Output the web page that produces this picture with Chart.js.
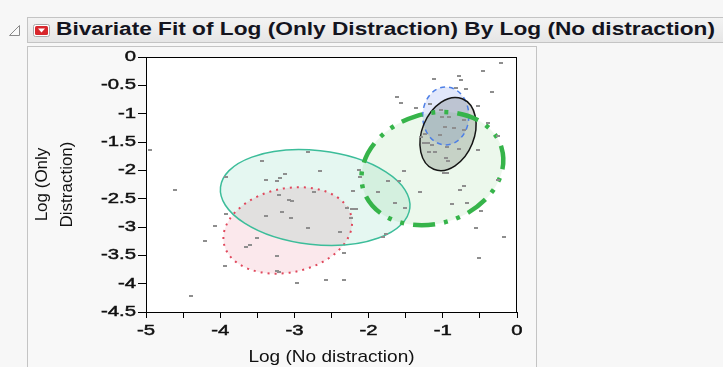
<!DOCTYPE html>
<html lang="en">
  <head>
    <meta charset="UTF-8" />
    <title>Bivariate Fit</title>
    <script src="https://cdn.jsdelivr.net/npm/chart.js"></script>
    <style>
      body {
        margin: 0;
        width: 723px;
        height: 367px;
        overflow: hidden;
        position: relative;
        background: #f7f7f7;
        font-family: "Liberation Sans", Arial, sans-serif;
      }
      .header {
        position: absolute;
        left: 27px;
        top: 17px;
        width: 696px;
        height: 26px;
        box-sizing: border-box;
        border: 1px solid #c4c4c4;
        border-right: none;
        background: linear-gradient(#f3f3f3, #e6e6e6);
      }
      .header .title {
        position: absolute;
        left: 28px;
        top: 1px;
        line-height: 20px;
        font-size: 18px;
        font-weight: bold;
        color: #14141e;
        white-space: nowrap;
        transform: scaleX(1.26);
        transform-origin: left top;
      }
      .panel {
        position: absolute;
        left: 27px;
        top: 46px;
        width: 510px;
        height: 340px;
        box-sizing: border-box;
        border: 1px solid #c4c4c4;
        background: #f8f8f8;
      }
      #icons,
      #plot {
        position: absolute;
        left: 0;
        top: 0;
      }
    </style>
  </head>
  <body>
    <div class="header"><span class="title">Bivariate Fit of Log (Only Distraction) By Log (No distraction)</span></div>
    <svg id="icons" width="60" height="44">
      <path d="M19.5 25.5 L19.5 35.5 L9.5 35.5 Z" fill="#fafafa" stroke="#8a8a8a" />
      <rect x="33.5" y="24.5" width="16" height="12" rx="2" fill="#fff" stroke="#a8a8a8" />
      <rect x="35" y="26" width="13" height="9" rx="1.5" fill="#d8262c" />
      <path d="M38 28.5 L45 28.5 L41.5 32.5 Z" fill="#fff" />
    </svg>
    <div class="panel"></div>
    <canvas id="plot" width="723" height="367"></canvas>
    <script>
      // Log (No distraction) / Log (Only Distraction) per subject
      const noDistraction = [
        -4.95, -2.81, -3.44, -2.66, -3.12, -3.19, -3.23, -3.38, -3.92, -4.61,
        -3.21, -3.07, -3.03, -2.73, -3.92, -3.38, -3.17, -3.04, -2.81, -4.07,
        -4.21, -3.5, -3.6, -3.65, -3.23, -3.94, -3.23, -3.21, -2.96, -2.58,
        -2.33, -4.4, -2.21, -1.87, -1.31, -0.72, -0.77, -1.64, -1.51, -0.87,
        -0.68, -0.49, -2.29, -2.22, -2.17, -2.24, -2.38, -0.55, -0.18, -1.77,
        -1.8, -2.33, -0.51, -2.13, -2.12, -1.52, -1.74, -1.59, -0.26, -0.98,
        -0.94, -0.22, -0.46, -0.78, -0.75, -1.12, -0.69, -0.34, -1.62, -1.56,
        -1.36, -0.82, -0.53, -1.17, -0.71, -0.91, -1.01, -0.97, -0.85, -0.72,
        -1.24, -1.04, -1.3, -1.25, -1.2, -1.14, -0.94, -0.78, -0.52, -1.19,
        -1.11, -0.96, -0.93, -0.26, -0.39, -1.03,
      ];
      const onlyDistraction = [
        -1.64, -1.68, -1.84, -2.02, -2.06, -2.14, -2.19, -2.17, -2.12, -2.34,
        -2.44, -2.52, -2.54, -2.39, -2.77, -2.81, -2.74, -2.84, -3.01, -2.99,
        -3.24, -3.19, -3.31, -3.36, -3.51, -3.68, -3.78, -3.8, -3.99, -3.93,
        -3.93, -4.21, -2.36, -2.39, -2.39, -2.27, -2.34, -2.57, -2.67, -2.59,
        -2.57, -2.71, -2.67, -2.69, -2.69, -2.84, -3.09, -3.02, -3.18, -3.12,
        -3.18, -3.46, -3.54, -1.99, -2.11, -2.01, -2.19, -2.19, -2.17, -2.04,
        -2.05, -0.11, -0.25, -0.34, -0.4, -0.39, -0.56, -0.62, -0.71, -0.81,
        -0.9, -0.55, -0.87, -0.83, -1.12, -1.05, -1.05, -1.24, -1.25, -1.28,
        -1.36, -1.37, -1.41, -1.52, -1.51, -1.55, -1.58, -1.62, -1.64, -1.67,
        -1.68, -1.78, -1.84, -1.4, -1.17, -0.93,
      ];

      // density ellipses: centre plus two conjugate half-axes, in data units
      const ellipseCenter = [[-2.72, -2.48], [-3.09, -3.06], [-1.14, -1.97], [-0.93, -1.36], [-0.96, -1.04]];
      const ellipseAxisU = [[1.276, -0.184], [0.859, 0.238], [0.931, 0.372], [0.192, 0.622], [0.311, 0]];
      const ellipseAxisV = [[-0.07, -0.824], [0.118, -0.725], [0.217, -0.928], [0.326, -0.172], [0, -0.512]];

      const xTickValues = [-5, -4.5, -4, -3.5, -3, -2.5, -2, -1.5, -1, -0.5, 0];
      const xTickLabels = ["-5", "", "-4", "", "-3", "", "-2", "", "-1", "", "0"];
      const yTickValues = [0, -0.5, -1, -1.5, -2, -2.5, -3, -3.5, -4, -4.5];
      const yTickLabels = ["0", "-0.5", "-1", "-1.5", "-2", "-2.5", "-3", "-3.5", "-4", "-4.5"];

      const ellipseStyle = [
        { stroke: "#3cbd9a", width: 1.5, dash: [], fill: "rgb(229,247,241)" },
        { stroke: "#e0485c", width: 2, dash: [2, 5], fill: "rgb(251,232,236)" },
        { stroke: "#36b44a", width: 4.5, dash: [22, 9, 4, 9, 4, 9], fill: "rgb(236,248,236)" },
        { stroke: "#151515", width: 1.5, dash: [], fill: "rgb(214,216,214)" },
        { stroke: "#4d7fe6", width: 1.5, dash: [5, 4], fill: "rgb(226,232,251)" },
      ];
      const strokeOrder = [1, 0, 4, 3, 2];

      const TICK_FONT = '14px "Liberation Sans", Arial, sans-serif';
      const TITLE_FONT = '17px "Liberation Sans", Arial, sans-serif';

      // small grey dash used as the marker
      const marker = document.createElement("canvas");
      marker.width = 4;
      marker.height = 2;
      const mctx = marker.getContext("2d");
      mctx.fillStyle = "#8e8e8e";
      mctx.fillRect(0, 0, 4, 2);

      function stretchedText(ctx, text, x, y, sx, align, baseline, font, heavy) {
        ctx.save();
        ctx.translate(x, y);
        ctx.scale(sx, 1);
        ctx.font = font;
        ctx.textAlign = align;
        ctx.textBaseline = baseline;
        ctx.fillText(text, 0, 0);
        if (heavy) {
          ctx.lineWidth = 0.45;
          ctx.strokeStyle = ctx.fillStyle;
          ctx.strokeText(text, 0, 0);
        }
        ctx.restore();
      }

      const densityEllipses = {
        id: "densityEllipses",
        beforeDraw(chart) {
          const { ctx, chartArea } = chart;
          ctx.save();
          ctx.fillStyle = "#fff";
          ctx.fillRect(chartArea.left, chartArea.top, chartArea.width, chartArea.height);
          ctx.restore();
        },
        beforeDatasetsDraw(chart) {
          const { ctx, chartArea } = chart;
          const xs = chart.scales.x;
          const ys = chart.scales.y;
          const paths = ellipseCenter.map((c, i) => {
            const cx = xs.getPixelForValue(c[0]);
            const cy = ys.getPixelForValue(c[1]);
            const u = ellipseAxisU[i];
            const v = ellipseAxisV[i];
            const m = new DOMMatrix([
              xs.getPixelForValue(c[0] + u[0]) - cx,
              ys.getPixelForValue(c[1] + u[1]) - cy,
              xs.getPixelForValue(c[0] + v[0]) - cx,
              ys.getPixelForValue(c[1] + v[1]) - cy,
              cx,
              cy,
            ]);
            const circle = new Path2D();
            circle.arc(0, 0, 1, 0, Math.PI * 2);
            const p = new Path2D();
            p.addPath(circle, m);
            return p;
          });

          ctx.save();
          ctx.beginPath();
          ctx.rect(chartArea.left, chartArea.top, chartArea.width, chartArea.height);
          ctx.clip();
          // fills multiply so overlaps darken like the original shading
          ctx.globalCompositeOperation = "multiply";
          paths.forEach((p, i) => {
            ctx.fillStyle = ellipseStyle[i].fill;
            ctx.fill(p);
          });
          ctx.globalCompositeOperation = "source-over";
          strokeOrder.forEach((i) => {
            const st = ellipseStyle[i];
            ctx.strokeStyle = st.stroke;
            ctx.lineWidth = st.width;
            ctx.setLineDash(st.dash);
            ctx.stroke(paths[i]);
          });
          ctx.restore();
        },
        afterDraw(chart) {
          const { ctx, chartArea } = chart;
          const xs = chart.scales.x;
          const ys = chart.scales.y;
          ctx.save();
          ctx.strokeStyle = "#000";
          ctx.lineWidth = 1;
          ctx.strokeRect(
            chartArea.left + 0.5,
            chartArea.top + 0.5,
            chartArea.width - 1,
            chartArea.height
          );
          ctx.fillStyle = "#111";
          yTickValues.forEach((v, i) => {
            stretchedText(ctx, yTickLabels[i], 136, ys.getPixelForValue(v), 1.45, "right", "middle", TICK_FONT, true);
          });
          xTickValues.forEach((v, i) => {
            if (xTickLabels[i]) {
              stretchedText(ctx, xTickLabels[i], xs.getPixelForValue(v), 331.5, 1.45, "center", "middle", TICK_FONT, true);
            }
          });
          const midX = (chartArea.left + chartArea.right) / 2;
          const midY = (chartArea.top + chartArea.bottom) / 2;
          stretchedText(ctx, "Log (No distraction)", midX, 362, 1.12, "center", "alphabetic", TITLE_FONT, false);
          ctx.font = TITLE_FONT;
          ctx.textAlign = "center";
          ctx.textBaseline = "alphabetic";
          [["Log (Only", 47], ["Distraction)", 72]].forEach(([line, bx]) => {
            ctx.save();
            ctx.translate(bx, midY);
            ctx.rotate(-Math.PI / 2);
            ctx.fillText(line, 0, 0);
            ctx.restore();
          });
          ctx.restore();
        },
      };

      const points = noDistraction.map((x, i) => ({ x, y: onlyDistraction[i] }));

      new Chart(document.getElementById("plot"), {
        type: "scatter",
        data: {
          datasets: [
            {
              label: "Log (Only Distraction)",
              data: points,
              pointStyle: marker,
              pointRadius: 2,
              pointHoverRadius: 2,
            },
          ],
        },
        options: {
          responsive: false,
          animation: false,
          events: [],
          layout: { padding: { left: 0, top: 57, right: 206, bottom: 0 } },
          plugins: { legend: { display: false }, tooltip: { enabled: false } },
          scales: {
            x: {
              type: "linear",
              min: -5,
              max: 0,
              afterBuildTicks: (s) => {
                s.ticks = xTickValues.map((value) => ({ value }));
              },
              afterFit: (s) => {
                s.height = 55;
              },
              ticks: { display: false },
              border: { display: false },
              grid: { drawOnChartArea: false, tickLength: 6, color: "#000", tickColor: "#000" },
            },
            y: {
              type: "linear",
              min: -4.5,
              max: 0,
              afterBuildTicks: (s) => {
                s.ticks = yTickValues.map((value) => ({ value }));
              },
              afterFit: (s) => {
                s.width = 146;
              },
              ticks: { display: false },
              border: { display: false },
              grid: { drawOnChartArea: false, tickLength: 8, color: "#000", tickColor: "#000" },
            },
          },
        },
        plugins: [densityEllipses],
      });
    </script>
  </body>
</html>
